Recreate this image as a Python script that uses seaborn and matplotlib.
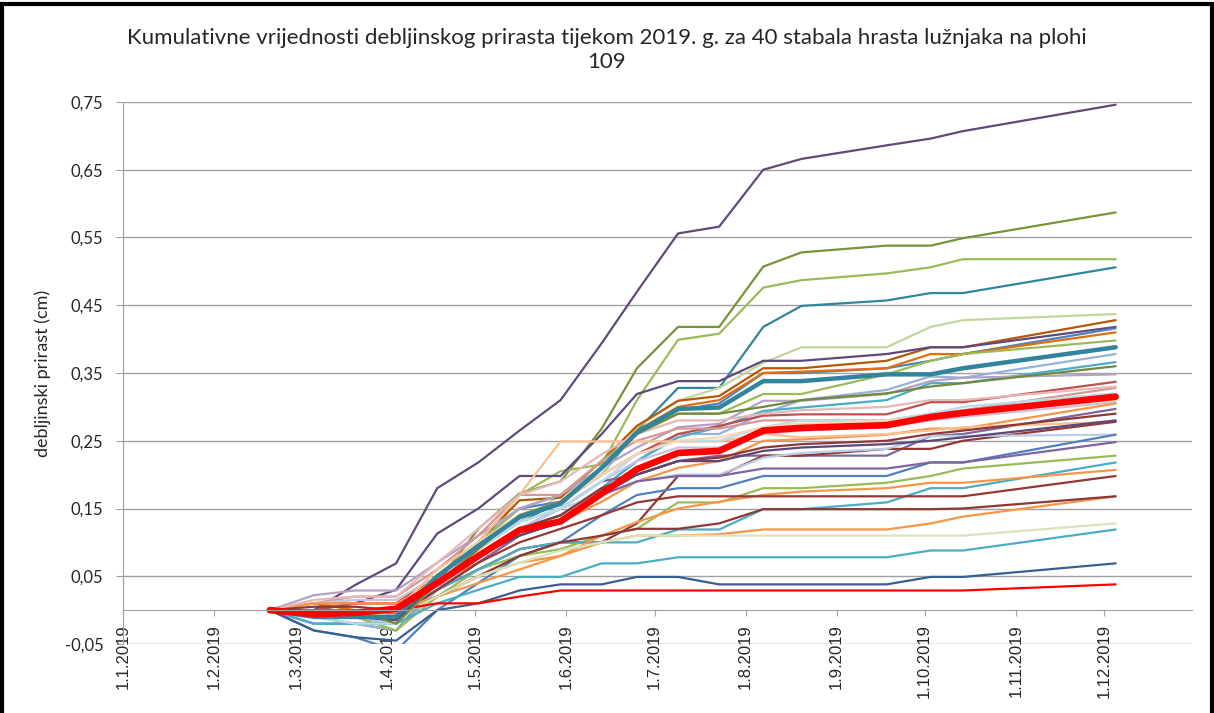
import pandas as pd
import numpy as np
import matplotlib
matplotlib.use("Agg")
import matplotlib.pyplot as plt
import matplotlib.dates as mdates
from matplotlib.patches import Rectangle
import seaborn as sns

# ==========================================
# 1. Data
# ==========================================
datumi = pd.to_datetime([
    "2019-02-20", "2019-03-07", "2019-03-21", "2019-04-04", "2019-04-18",
    "2019-05-02", "2019-05-16", "2019-05-30", "2019-06-13", "2019-06-25",
    "2019-07-09", "2019-07-23", "2019-08-07", "2019-08-20", "2019-09-18",
    "2019-10-03", "2019-10-14", "2019-12-05",
])

s01 = [0, 0, 0.037, 0.069, 0.18, 0.218, 0.265, 0.31, 0.394, 0.47, 0.556, 0.566, 0.65, 0.666, 0.686, 0.696, 0.707, 0.746]
s02 = [0, -0.01, -0.02, -0.03, 0.04, 0.12, 0.172, 0.19, 0.268, 0.357, 0.418, 0.418, 0.507, 0.528, 0.538, 0.538, 0.549, 0.587]
s03 = [0, 0, -0.01, -0.01, 0.05, 0.1, 0.17, 0.205, 0.215, 0.31, 0.399, 0.408, 0.476, 0.487, 0.497, 0.506, 0.518, 0.518]
s04 = [0, -0.01, -0.01, -0.02, 0.04, 0.09, 0.13, 0.16, 0.2, 0.265, 0.328, 0.328, 0.418, 0.449, 0.457, 0.468, 0.468, 0.506]
s05 = [0, 0, 0, 0, 0.05, 0.09, 0.13, 0.17, 0.2, 0.27, 0.309, 0.328, 0.365, 0.388, 0.388, 0.418, 0.428, 0.437]
s06 = [0, 0.01, 0.01, 0.01, 0.05, 0.1, 0.162, 0.166, 0.22, 0.272, 0.309, 0.316, 0.357, 0.357, 0.368, 0.388, 0.388, 0.428]
s07 = [0, 0, 0.01, 0.03, 0.113, 0.15, 0.198, 0.198, 0.26, 0.319, 0.338, 0.338, 0.368, 0.368, 0.378, 0.388, 0.388, 0.418]
s08 = [0, -0.01, -0.01, -0.02, 0.05, 0.1, 0.15, 0.16, 0.21, 0.26, 0.295, 0.305, 0.35, 0.35, 0.357, 0.368, 0.378, 0.416]
s09 = [0, 0.01, 0, -0.005, 0.04, 0.09, 0.14, 0.16, 0.21, 0.265, 0.3, 0.31, 0.35, 0.352, 0.357, 0.378, 0.378, 0.41]
s10 = [0, 0, -0.01, -0.01, 0.05, 0.1, 0.15, 0.17, 0.22, 0.26, 0.29, 0.29, 0.319, 0.319, 0.348, 0.368, 0.378, 0.398]
s11 = [0, -0.02, -0.02, -0.03, 0.03, 0.08, 0.12, 0.14, 0.18, 0.22, 0.26, 0.26, 0.29, 0.31, 0.325, 0.345, 0.343, 0.378]
s12 = [0, -0.02, -0.02, -0.02, 0.04, 0.08, 0.12, 0.14, 0.18, 0.22, 0.255, 0.27, 0.294, 0.299, 0.31, 0.335, 0.335, 0.366]
s13 = [0, 0.022, 0.029, 0.029, 0.07, 0.11, 0.15, 0.17, 0.21, 0.24, 0.27, 0.275, 0.309, 0.309, 0.319, 0.338, 0.343, 0.348]
s14 = [0, 0, 0.01, 0.01, 0.05, 0.1, 0.14, 0.16, 0.2, 0.23, 0.26, 0.272, 0.287, 0.289, 0.289, 0.307, 0.307, 0.337]
s15 = [0, 0.01, 0.02, 0.02, 0.06, 0.11, 0.17, 0.17, 0.22, 0.25, 0.268, 0.268, 0.28, 0.28, 0.28, 0.29, 0.295, 0.328]
s16 = [0, 0.01, 0.015, 0.015, 0.05, 0.09, 0.13, 0.15, 0.19, 0.22, 0.24, 0.24, 0.26, 0.265, 0.27, 0.28, 0.285, 0.307]
s17 = [0, 0, -0.01, -0.01, 0.04, 0.08, 0.12, 0.15, 0.19, 0.2, 0.22, 0.228, 0.228, 0.228, 0.228, 0.257, 0.26, 0.297]
s18 = [0, 0.01, 0.01, 0.01, 0.04, 0.07, 0.11, 0.13, 0.16, 0.19, 0.21, 0.22, 0.25, 0.252, 0.259, 0.268, 0.268, 0.305]
s19 = [0, 0, 0, 0, 0.06, 0.1, 0.17, 0.249, 0.249, 0.249, 0.249, 0.249, 0.26, 0.255, 0.26, 0.265, 0.27, 0.278]
s20 = [0, -0.01, -0.01, -0.01, 0.03, 0.06, 0.09, 0.1, 0.1, 0.128, 0.198, 0.198, 0.228, 0.228, 0.238, 0.238, 0.25, 0.278]
s21 = [0, -0.01, -0.01, -0.02, 0.03, 0.08, 0.12, 0.15, 0.17, 0.19, 0.2, 0.2, 0.225, 0.232, 0.238, 0.257, 0.257, 0.259]
s22 = [0, -0.03, -0.04, -0.06, 0.0, 0.04, 0.08, 0.1, 0.14, 0.17, 0.18, 0.18, 0.198, 0.198, 0.198, 0.218, 0.218, 0.259]
s23 = [0, 0, 0, -0.01, 0.03, 0.07, 0.11, 0.13, 0.17, 0.19, 0.198, 0.198, 0.209, 0.209, 0.209, 0.218, 0.218, 0.248]
s24 = [0, -0.01, -0.01, -0.03, 0.02, 0.06, 0.08, 0.09, 0.11, 0.12, 0.159, 0.159, 0.18, 0.18, 0.188, 0.198, 0.209, 0.228]
s25 = [0, -0.01, -0.01, -0.01, 0.03, 0.06, 0.09, 0.1, 0.1, 0.1, 0.119, 0.119, 0.149, 0.149, 0.159, 0.18, 0.18, 0.218]
s26 = [0, 0, 0, -0.01, 0.02, 0.05, 0.07, 0.08, 0.11, 0.13, 0.15, 0.16, 0.17, 0.175, 0.18, 0.188, 0.188, 0.207]
s27 = [0, 0, 0, -0.01, 0.03, 0.07, 0.1, 0.12, 0.14, 0.159, 0.168, 0.168, 0.168, 0.168, 0.168, 0.168, 0.168, 0.198]
s28 = [0, 0, 0, 0, 0.02, 0.04, 0.06, 0.08, 0.1, 0.11, 0.11, 0.112, 0.119, 0.119, 0.119, 0.128, 0.138, 0.168]
s29 = [0, 0, -0.01, -0.01, 0.02, 0.05, 0.08, 0.1, 0.11, 0.12, 0.12, 0.128, 0.149, 0.149, 0.149, 0.149, 0.15, 0.168]
s30 = [0, 0, 0, -0.01, 0.02, 0.05, 0.07, 0.088, 0.1, 0.11, 0.11, 0.11, 0.11, 0.11, 0.11, 0.11, 0.11, 0.128]
s31 = [0, -0.02, -0.02, -0.02, 0.01, 0.03, 0.049, 0.049, 0.069, 0.069, 0.078, 0.078, 0.078, 0.078, 0.078, 0.088, 0.088, 0.119]
s32 = [0, -0.03, -0.04, -0.045, 0.0, 0.01, 0.029, 0.038, 0.038, 0.049, 0.049, 0.038, 0.038, 0.038, 0.038, 0.049, 0.049, 0.069]
s33 = [0, 0, 0, 0, 0.01, 0.01, 0.02, 0.029, 0.029, 0.029, 0.029, 0.029, 0.029, 0.029, 0.029, 0.029, 0.029, 0.038]
s34 = [0, 0.015, 0.02, 0.02, 0.07, 0.12, 0.17, 0.19, 0.23, 0.26, 0.28, 0.28, 0.29, 0.295, 0.3, 0.31, 0.31, 0.33]
s35 = [0, -0.01, -0.02, -0.02, 0.04, 0.09, 0.13, 0.15, 0.19, 0.23, 0.25, 0.25, 0.27, 0.28, 0.28, 0.29, 0.3, 0.32]
s36 = [0, 0, 0, 0, 0.05, 0.1, 0.14, 0.16, 0.2, 0.23, 0.25, 0.255, 0.27, 0.275, 0.28, 0.285, 0.29, 0.31]
s37 = [0, 0.005, 0.005, 0, 0.04, 0.08, 0.12, 0.14, 0.18, 0.2, 0.22, 0.225, 0.24, 0.245, 0.25, 0.26, 0.265, 0.29]
s38 = [0, 0, -0.01, -0.015, 0.04, 0.08, 0.11, 0.13, 0.17, 0.2, 0.22, 0.22, 0.235, 0.24, 0.245, 0.25, 0.255, 0.28]
s39 = [0, 0, 0, -0.02, 0.04, 0.09, 0.14, 0.16, 0.21, 0.26, 0.29, 0.29, 0.3, 0.31, 0.32, 0.33, 0.335, 0.36]
s40 = [0, -0.01, -0.01, -0.01, 0.05, 0.095, 0.137, 0.157, 0.21, 0.262, 0.297, 0.299, 0.338, 0.338, 0.348, 0.348, 0.357, 0.388]

prosjek = [0, -0.006, -0.004, 0.002, 0.04, 0.08, 0.118, 0.131, 0.172, 0.208, 0.232, 0.235, 0.265, 0.269, 0.273, 0.285, 0.291, 0.315]

stabla = [s01, s02, s03, s04, s05, s06, s07, s08, s09, s10,
          s11, s12, s13, s14, s15, s16, s17, s18, s19, s20,
          s21, s22, s23, s24, s25, s26, s27, s28, s29, s30,
          s31, s32, s33, s34, s35, s36, s37, s38, s39, s40]

boje = ["#604A7B", "#77933C", "#9BBB59", "#31859C", "#C3D69B", "#B65708",
        "#5F497A", "#4F81BD", "#E46C0A", "#9BBB59", "#95B3D7", "#4BACC6",
        "#B3A2C7", "#C0504D", "#D99694", "#CCC1DA", "#8064A2", "#F79646",
        "#FAC090", "#953735", "#B9CDE5", "#4F81BD", "#8064A2", "#9BBB59",
        "#4BACC6", "#F79646", "#953735", "#F79646", "#8C3836", "#D7E4BD",
        "#4BACC6", "#376092", "#FF0000", "#E6B9B8", "#B7DEE8", "#FCD5B5",
        "#8C3836", "#5C4776", "#71893F", "#31849B"]

naslov = ("Kumulativne vrijednosti debljinskog prirasta tijekom 2019. g. "
          "za 40 stabala hrasta lužnjaka na plohi\n109")

# long-form table for seaborn
df = pd.concat([
    pd.DataFrame({"datum": datumi, "prirast": v, "stablo": f"S{i + 1:02d}"})
    for i, v in enumerate(stabla[:-1])
], ignore_index=True)
df_debelo = pd.DataFrame({"datum": datumi, "prirast": s40})
df_prosjek = pd.DataFrame({"datum": datumi, "prirast": prosjek})
paleta = {f"S{i + 1:02d}": c for i, c in enumerate(boje[:-1])}

# ==========================================
# 2. Plot
# ==========================================
sns.set_style("white")
plt.rcParams["font.family"] = ["Lato", "DejaVu Sans"]
plt.rcParams["axes.unicode_minus"] = False

fig = plt.figure(figsize=(12.14, 7.13), dpi=100)
ax = fig.add_axes([123 / 1214, 1 - 644 / 713, (1192 - 123) / 1214, (644 - 102) / 713])

sns.lineplot(data=df, x="datum", y="prirast", hue="stablo", palette=paleta,
             linewidth=1.6, legend=False, sort=False, estimator=None, ax=ax,
             solid_joinstyle="round")
sns.lineplot(data=df_debelo, x="datum", y="prirast", color=boje[-1],
             linewidth=3.2, sort=False, estimator=None, ax=ax, solid_joinstyle="round")
sns.lineplot(data=df_prosjek, x="datum", y="prirast", color="#FF0000",
             linewidth=4.8, sort=False, estimator=None, ax=ax, solid_joinstyle="round")

ax.set_xlim(pd.Timestamp("2019-01-01"), pd.Timestamp("2019-12-31"))
ax.set_ylim(-0.05, 0.75)
ax.set_yticks(np.arange(-0.05, 0.76, 0.1))
ax.yaxis.set_major_formatter(plt.FuncFormatter(lambda v, p: f"{v:.2f}".replace(".", ",")))
ax.xaxis.set_major_locator(mdates.MonthLocator())
ax.xaxis.set_major_formatter(plt.FuncFormatter(
    lambda v, p: "{0.day}.{0.month}.{0.year}".format(mdates.num2date(v))))

ax.grid(axis="y", color="#A0A0A0", linewidth=1.0)
ax.grid(axis="x", visible=False)
ax.set_axisbelow(True)
for side in ["top", "right"]:
    ax.spines[side].set_visible(False)
ax.spines["left"].set_color("#A0A0A0")
ax.spines["bottom"].set_color("#A0A0A0")
ax.spines["bottom"].set_position(("data", 0))

ax.tick_params(axis="y", length=5, color="#A0A0A0", labelsize=12, pad=9, left=True)
ax.tick_params(axis="x", length=4, color="#A0A0A0", pad=6, bottom=True)
for lbl in ax.get_xticklabels():
    lbl.set_rotation(90)
    lbl.set_family(["Liberation Sans", "DejaVu Sans"])
    lbl.set_fontsize(12)

ax.set_xlabel("")
ax.set_ylabel("debljinski prirast (cm)", fontsize=13, labelpad=10)
fig.text(0.5, 0.930, naslov, ha="center", va="center", fontsize=16, linespacing=1.25)

# chart frame
fig.patches.append(Rectangle((0.002, -0.02), 0.996, 1.015, transform=fig.transFigure,
                             fill=False, edgecolor="black", linewidth=3))

fig.savefig("out.png", dpi=100)
